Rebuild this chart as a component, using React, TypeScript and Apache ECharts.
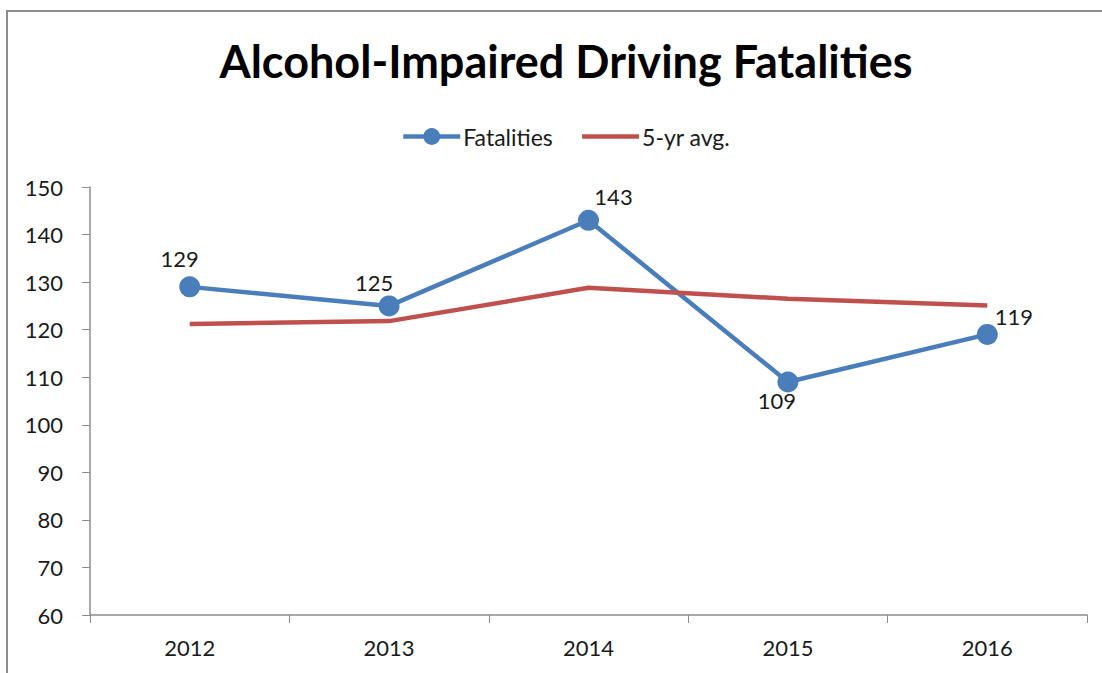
import React, { useEffect, useRef } from "react";
import * as echarts from "echarts";

const years = ["2012", "2013", "2014", "2015", "2016"];
const fatalities = [129, 125, 143, 109, 119];
const fiveYrAvg = [121.2, 121.8, 128.8, 126.5, 125.1];
const seriesNames = ["Fatalities", "5-yr avg."];
const titleText = "Alcohol-Impaired Driving Fatalities";

const labelStyles: any[] = [
  { position: "top", distance: 7, offset: [-10, 0] },
  { position: "top", distance: 7, offset: [-15, 5] },
  { position: "top", distance: 7, offset: [25, 5] },
  { position: "bottom", distance: 7, offset: [-11, -10] },
  { position: "right", distance: 7, offset: [-10, -18] },
];

const FONT = "Lato, 'Open Sans', sans-serif";

export default function App() {
  const ref = useRef<HTMLDivElement>(null);
  useEffect(() => {
    if (!ref.current) return;
    const chart = echarts.init(ref.current, null, { renderer: "svg" });
    chart.setOption({
      animation: false,
      backgroundColor: "#ffffff",
      textStyle: { fontFamily: FONT },
      graphic: [
        {
          type: "rect",
          shape: { x: 7, y: 11, width: 1110, height: 700 },
          style: { fill: "none", stroke: "#8c8c8c", lineWidth: 2 },
          silent: true,
          z: -1,
        },
      ],
      title: {
        text: titleText,
        left: 561,
        top: 33,
        textAlign: "center",
        textStyle: { fontFamily: FONT, fontWeight: "bold", fontSize: 45, color: "#000" },
      },
      legend: {
        data: [
          { name: seriesNames[0] },
          { name: seriesNames[1], itemStyle: { opacity: 0 } },
        ],
        top: 120,
        left: 396,
        itemWidth: 57,
        itemHeight: 21,
        itemGap: 27,
        lineStyle: { width: 4.5 },
        textStyle: { fontFamily: FONT, fontSize: 23, color: "#1a1a1a", padding: [0, 0, 0, -2] },
      },
      grid: { left: 90, right: 15, top: 187, bottom: 58 },
      xAxis: {
        type: "category",
        data: years,
        boundaryGap: true,
        axisLine: { lineStyle: { color: "#8c8c8c", width: 1.5 } },
        axisTick: { show: true, length: 8, alignWithLabel: false, lineStyle: { color: "#8c8c8c" } },
        axisLabel: { fontFamily: FONT, fontSize: 22, color: "#1a1a1a", margin: 21 },
      },
      yAxis: {
        type: "value",
        min: 60,
        max: 150,
        interval: 10,
        axisLine: { show: true, lineStyle: { color: "#8c8c8c", width: 1.5 } },
        axisTick: { show: true, length: 8, lineStyle: { color: "#8c8c8c" } },
        splitLine: { show: false },
        axisLabel: { fontFamily: FONT, fontSize: 22, color: "#1a1a1a", margin: 27 },
      },
      series: [
        {
          name: seriesNames[0],
          type: "line",
          data: fatalities.map((v, i) => ({
            value: v,
            label: { show: true, ...labelStyles[i] },
          })),
          symbol: "circle",
          symbolSize: 21,
          lineStyle: { color: "#4a7ebb", width: 4.5 },
          itemStyle: { color: "#4a7ebb" },
          label: { show: true, fontFamily: FONT, fontSize: 22, color: "#1a1a1a" },
          z: 2,
        },
        {
          name: seriesNames[1],
          type: "line",
          data: fiveYrAvg,
          symbol: "none",
          lineStyle: { color: "#c0504d", width: 4.5 },
          itemStyle: { color: "#c0504d" },
          z: 3,
        },
      ],
    });
    return () => chart.dispose();
  }, []);
  return (
    <div
      ref={ref}
      style={{ position: "absolute", left: 0, top: 0, width: 1102, height: 673 }}
    />
  );
}
